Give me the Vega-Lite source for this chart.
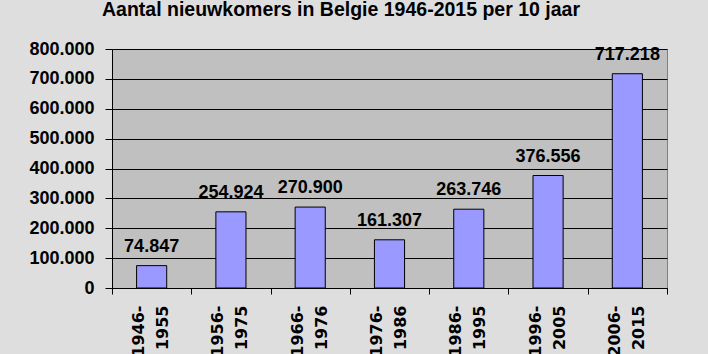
{
  "$schema": "https://vega.github.io/schema/vega-lite/v6.json",
  "width": 555,
  "height": 239,
  "autosize": {"type": "none"},
  "padding": {"left": 112, "top": 49, "right": 41, "bottom": 66},
  "background": "#dedede",
  "title": {
    "text": "Aantal nieuwkomers in Belgie 1946-2015 per 10 jaar",
    "font": "Liberation Sans",
    "fontSize": 19.5,
    "fontWeight": "bold",
    "color": "black",
    "anchor": "middle",
    "dx": -48.5,
    "offset": 19.5
  },
  "config": {
    "locale": {"number": {"decimal": ",", "thousands": ".", "grouping": [3], "currency": ["€", ""]}},
    "view": {"fill": "#c0c0c0", "stroke": "#808080", "strokeWidth": 1},
    "font": "Liberation Sans"
  },
  "data": {
    "values": [
      {"periode": "1946-1955", "aantal": 74847},
      {"periode": "1956-1975", "aantal": 254924},
      {"periode": "1966-1976", "aantal": 270900},
      {"periode": "1976-1986", "aantal": 161307},
      {"periode": "1986-1995", "aantal": 263746},
      {"periode": "1996-2005", "aantal": 376556},
      {"periode": "2006-2015", "aantal": 717218}
    ]
  },
  "encoding": {
    "x": {
      "field": "periode",
      "type": "nominal",
      "sort": null,
      "title": null,
      "scale": {"paddingInner": 0, "paddingOuter": 0},
      "axis": {
        "labelAngle": -90,
        "labelExpr": "[slice(datum.label,0,5), slice(datum.label,5)]",
        "labelFont": "DejaVu Sans",
        "labelFontSize": 16,
        "labelFontWeight": "bold",
        "labelColor": "black",
        "labelLineHeight": 24,
        "labelPadding": 11,
        "labelOffset": -13,
        "labelAlign": "right",
        "labelBaseline": "middle",
        "tickSize": 6,
        "tickColor": "black",
        "domainColor": "black",
        "tickBand": "extent",
        "grid": false
      }
    },
    "y": {
      "field": "aantal",
      "type": "quantitative",
      "title": null,
      "scale": {"domain": [0, 800000]},
      "axis": {
        "values": [0, 100000, 200000, 300000, 400000, 500000, 600000, 700000, 800000],
        "format": ",d",
        "labelFont": "Liberation Sans",
        "labelFontSize": 18,
        "labelFontWeight": "bold",
        "labelColor": "black",
        "labelPadding": 11,
        "tickSize": 7,
        "tickColor": "black",
        "domainColor": "black",
        "grid": true,
        "gridColor": "black",
        "gridOpacity": 1,
        "gridWidth": 1
      }
    }
  },
  "layer": [
    {"mark": {"type": "bar", "width": {"band": 0.38}, "fill": "#9999ff", "stroke": "black", "strokeWidth": 1}},
    {
      "mark": {"type": "text", "dy": -14, "baseline": "alphabetic", "fontSize": 18, "fontWeight": "bold", "color": "black", "font": "Liberation Sans"},
      "encoding": {"text": {"field": "aantal", "type": "quantitative", "format": ",d"}}
    }
  ]
}
